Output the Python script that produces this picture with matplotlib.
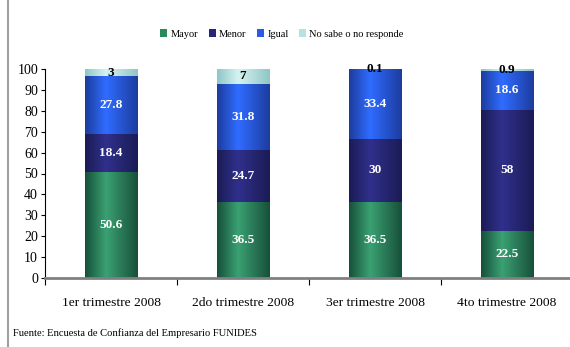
import numpy as np
import matplotlib
matplotlib.use('Agg')
import matplotlib.pyplot as plt
from matplotlib.colors import LinearSegmentedColormap
from matplotlib.lines import Line2D
from matplotlib.patches import Patch

# data
quarters = ['1er trimestre 2008', '2do trimestre 2008', '3er trimestre 2008', '4to trimestre 2008']
series = ['Mayor', 'Menor', 'Igual', 'No sabe o no responde']
mayor = [50.6, 36.5, 36.5, 22.5]
menor = [18.4, 24.7, 30, 58]
igual = [27.8, 31.8, 33.4, 18.6]
nosabe = [3, 7, 0.1, 0.9]

# (edge, centre) colours of the shaded bars
shades = [('#17503a', '#3aa072'), ('#1b1b55', '#30308c'),
          ('#1d3c9e', '#2f6cff'), ('#8fc6c6', '#d4f2f0')]
legend_colors = ['#2a8a5c', '#25257a', '#2a5ae6', '#b8e2e2']
label_colors = ['white', 'white', 'white', 'black']

plt.rcParams['font.family'] = ['Liberation Serif', 'DejaVu Serif']

fig = plt.figure(figsize=(5.7, 3.47), dpi=100)
ax = fig.add_axes([45 / 570, 1 - 278 / 347, 528 / 570, (278 - 69) / 347])

x = np.arange(len(quarters))
width = 0.4
grad = np.concatenate([np.linspace(0, 1, 40), np.linspace(1, 0, 60)]).reshape(1, -1)

bottom = np.zeros(len(quarters))
for vals, (dark, light), lc in zip([mayor, menor, igual, nosabe], shades, label_colors):
    bars = ax.bar(x, vals, width, bottom=bottom, color=light, edgecolor='none')
    cmap = LinearSegmentedColormap.from_list('g', [dark, light])
    for b, v in zip(bars, vals):
        x0, y0, w, h = b.get_x(), b.get_y(), b.get_width(), b.get_height()
        ax.imshow(grad, cmap=cmap, extent=(x0, x0 + w, y0, y0 + h),
                  aspect='auto', interpolation='bicubic', zorder=2)
        ax.text(x0 + w / 2, y0 + h / 2, f'{v:g}', ha='center', va='center',
                color=lc, fontsize=9.5, fontweight='bold', zorder=3)
    bottom = bottom + np.array(vals)

ax.set_xlim(-0.5, len(quarters) - 0.5)
ax.set_ylim(0, 100)
ax.set_yticks(range(0, 101, 10))
ax.tick_params(axis='y', labelsize=10, length=3, width=0.8, pad=2)

ax.set_xticks(x)
ax.set_xticklabels(quarters)
ax.tick_params(axis='x', which='major', length=0, labelsize=9.7, pad=14)
ax.set_xticks(np.arange(len(quarters)) - 0.5, minor=True)
ax.tick_params(axis='x', which='minor', length=5, width=0.8, color='black')

for s in ['top', 'right']:
    ax.spines[s].set_visible(False)
ax.spines['bottom'].set_color('#808080')
ax.spines['bottom'].set_linewidth(2)
ax.spines['bottom'].set_zorder(4)
ax.spines['left'].set_linewidth(0.8)

handles = [Patch(facecolor=c, edgecolor='none') for c in legend_colors]
fig.legend(handles, series, loc='center', bbox_to_anchor=(282 / 570, 1 - 34 / 347),
           ncol=4, frameon=False, fontsize=7.5, handlelength=0.7, handleheight=0.8,
           handletextpad=0.3, columnspacing=1.0)

fig.text(13 / 570, 1 - 333 / 347, 'Fuente: Encuesta de Confianza del Empresario FUNIDES',
         fontsize=7.6, va='center', ha='left')

# grey frame line at the left edge
fig.add_artist(Line2D([8 / 570, 8 / 570], [0, 1], transform=fig.transFigure,
                      color='#a0a0a0', linewidth=1.5))

fig.savefig('out.png', dpi=100)
